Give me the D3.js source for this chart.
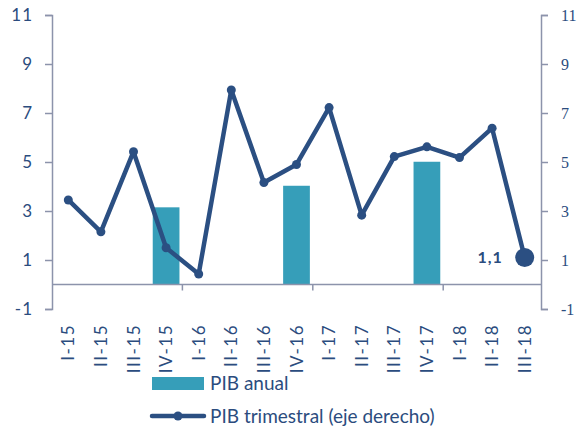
<!DOCTYPE html>
<html>
<head>
<meta charset="utf-8">
<script src="https://cdn.jsdelivr.net/npm/d3@7"></script>
<style>
  body { margin: 0; background: #fff; }
  svg text { font-family: Lato, "Open Sans", sans-serif; fill: #2b4c7e; }
</style>
</head>
<body>
<div id="chart"></div>
<script>
  // data
  var quarters = ["I-15", "II-15", "III-15", "IV-15", "I-16", "II-16", "III-16", "IV-16",
                  "I-17", "II-17", "III-17", "IV-17", "I-18", "II-18", "III-18"];
  var pibTrimestral = [3.45, 2.15, 5.42, 1.5, 0.43, 7.94, 4.16, 4.9, 7.22, 2.83, 5.22, 5.62, 5.18, 6.38, 1.1];
  var barQuarters = ["IV-15", "IV-16", "IV-17"];
  var pibAnual = [3.15, 4.03, 5.01];
  var yTicks = [-1, 1, 3, 5, 7, 9, 11];
  var lastLabel = "1,1";

  var navy = "#2b4f82", teal = "#369eb9", axisCol = "#8c93ab";

  var width = 587, height = 430;
  var margin = {top: 15, right: 46, bottom: 121, left: 52};

  var svg = d3.select("#chart")
    .append("svg")
    .attr("width", width)
    .attr("height", height);

  var x = d3.scaleBand()
    .domain(quarters)
    .range([margin.left, width - margin.right]);

  var y = d3.scaleLinear()
    .domain([-1, 11])
    .range([height - margin.bottom, margin.top]);

  var yRight = y.copy();

  // bars
  svg.append("g")
    .selectAll("rect")
    .data(barQuarters)
    .enter().append("rect")
    .attr("x", function(d) { return x(d) + x.bandwidth() * 0.09; })
    .attr("width", x.bandwidth() * 0.82)
    .attr("y", function(d, i) { return y(pibAnual[i]); })
    .attr("height", function(d, i) { return y(0) - y(pibAnual[i]); })
    .style("fill", teal);

  // zero line with year ticks
  svg.append("line")
    .attr("x1", margin.left).attr("x2", width - margin.right)
    .attr("y1", y(0)).attr("y2", y(0))
    .style("stroke", axisCol).style("stroke-width", 1.5);

  svg.selectAll("yearTick")
    .data(["I-16", "I-17", "I-18"])
    .enter().append("line")
    .attr("x1", function(d) { return x(d); })
    .attr("x2", function(d) { return x(d); })
    .attr("y1", y(0)).attr("y2", y(0) + 6)
    .style("stroke", axisCol).style("stroke-width", 1.5);

  var fmt = function(d) { return String(d); };

  // left axis
  var leftAxis = svg.append("g")
    .attr("transform", "translate(" + margin.left + ",0)")
    .call(d3.axisLeft(y).tickValues(yTicks).tickSize(7).tickPadding(12).tickFormat(fmt));
  leftAxis.selectAll("text").style("font-size", "17px").style("letter-spacing", "1px");

  // right axis
  var rightAxis = svg.append("g")
    .attr("transform", "translate(" + (width - margin.right) + ",0)")
    .call(d3.axisRight(yRight).tickValues(yTicks).tickSize(7).tickPadding(13).tickFormat(fmt));
  rightAxis.selectAll("text")
    .style("font-family", "'Liberation Serif', 'DejaVu Serif', serif")
    .style("font-size", "16px");

  svg.selectAll(".domain, .tick line")
    .style("stroke", axisCol).style("stroke-width", 1.5);

  // x labels
  svg.selectAll("xlabel")
    .data(quarters)
    .enter().append("text")
    .attr("transform", function(d) {
      return "translate(" + (x(d) + x.bandwidth() / 2 + 6) + "," + (y(-1) + 15) + ") rotate(-90)";
    })
    .attr("text-anchor", "end")
    .style("font-size", "17px")
    .style("letter-spacing", "1.5px")
    .text(function(d) { return d; });

  // line
  var line = d3.line()
    .x(function(d, i) { return x(quarters[i]) + x.bandwidth() / 2; })
    .y(function(d) { return yRight(d); });

  svg.append("path")
    .datum(pibTrimestral)
    .attr("d", line)
    .style("fill", "none")
    .style("stroke", navy)
    .style("stroke-width", 4.5)
    .style("stroke-linejoin", "round");

  svg.selectAll("dots")
    .data(pibTrimestral)
    .enter().append("circle")
    .attr("cx", function(d, i) { return x(quarters[i]) + x.bandwidth() / 2; })
    .attr("cy", function(d) { return yRight(d); })
    .attr("r", function(d, i) { return i == pibTrimestral.length - 1 ? 9.5 : 4.5; })
    .style("fill", navy);

  var last = pibTrimestral.length - 1;
  svg.append("text")
    .attr("x", x(quarters[last]) + x.bandwidth() / 2 - 22)
    .attr("y", yRight(pibTrimestral[last]))
    .attr("dy", "0.36em")
    .attr("text-anchor", "end")
    .style("font-size", "16px")
    .style("font-weight", "bold")
    .style("letter-spacing", "1px")
    .text(lastLabel);

  // legend
  var lg = svg.append("g").attr("transform", "translate(152,0)");
  lg.append("rect")
    .attr("x", 0).attr("y", 377)
    .attr("width", 52).attr("height", 13)
    .style("fill", teal);
  lg.append("text")
    .attr("x", 58).attr("y", 383.5).attr("dy", "0.36em")
    .style("font-size", "19px")
    .text("PIB anual");

  lg.append("line")
    .attr("x1", 0).attr("x2", 52)
    .attr("y1", 416).attr("y2", 416)
    .style("stroke", navy).style("stroke-width", 4.5)
    .style("stroke-linecap", "round");
  lg.append("circle")
    .attr("cx", 26).attr("cy", 416).attr("r", 4.5)
    .style("fill", navy);
  lg.append("text")
    .attr("x", 58).attr("y", 416).attr("dy", "0.36em")
    .style("font-size", "19px")
    .text("PIB trimestral (eje derecho)");
</script>
</body>
</html>
